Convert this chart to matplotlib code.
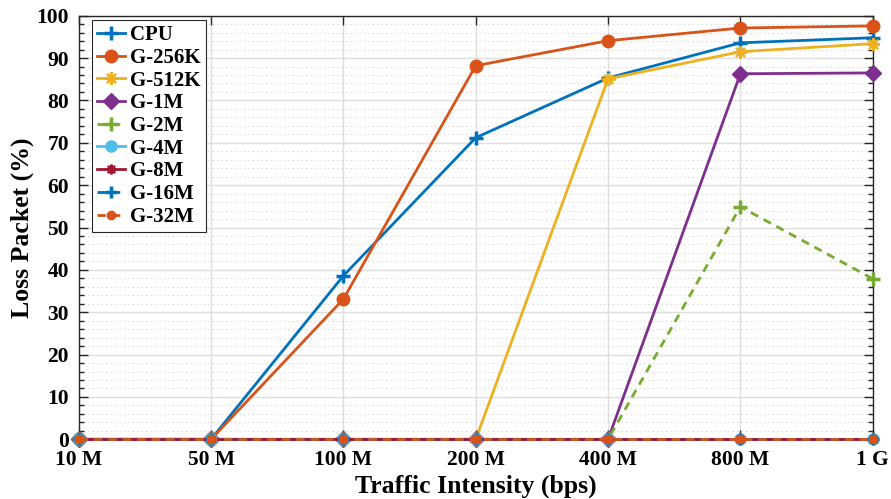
import numpy as np
import matplotlib
matplotlib.use("Agg")
import matplotlib.pyplot as plt
from matplotlib.ticker import MultipleLocator

# Дані
x_labels = ['10 M', '50 M', '100 M', '200 M', '400 M', '800 M', '1 G']
cpu = [0, 0, 38.6, 71.2, 85.3, 93.6, 94.8]
g_256k = [0, 0, 33.1, 88.2, 94.1, 97.1, 97.6]
g_512k = [0, 0, 0, 0, 85.1, 91.5, 93.4]
g_1m = [0, 0, 0, 0, 0, 86.3, 86.5]
g_2m = [0, 0, 0, 0, 0, 54.9, 37.9]
g_4m = [0, 0, 0, 0, 0, 0, 0]
g_8m = [0, 0, 0, 0, 0, 0, 0]
g_16m = [0, 0, 0, 0, 0, 0, 0]
g_32m = [0, 0, 0, 0, 0, 0, 0]

plt.rcParams['font.family'] = ['Liberation Serif', 'DejaVu Serif']
plt.rcParams['font.weight'] = 'bold'

fig = plt.figure(figsize=(8.91, 4.99), dpi=100)
ax = fig.add_axes([0.0883, 0.1196, 0.8912, 0.8489])

x = np.arange(len(x_labels))
lw = 2.0
asterisk = (8, 2, 0)

# (мітка, дані, колір, маркер, стиль лінії, розмір маркера)
series = [
    ('CPU', cpu, '#0072BD', '+', '-', 10),
    ('G-256K', g_256k, '#D95319', 'o', '-', 9),
    ('G-512K', g_512k, '#EDB120', asterisk, '-', 9),
    ('G-1M', g_1m, '#7E2F8E', 'D', '-', 8),
    ('G-2M', g_2m, '#77AC30', '+', '--', 10),
    ('G-4M', g_4m, '#4DBEEE', 'o', '-', 8),
    ('G-8M', g_8m, '#A2142F', asterisk, '-', 7),
    ('G-16M', g_16m, '#0072BD', '+', '--', 9),
    ('G-32M', g_32m, '#D95319', 'o', '--', 6),
]

for name, vals, col, mk, ls, ms in series:
    kw = dict(color=col, linestyle=ls, linewidth=lw, marker=mk, markersize=ms,
              label=name, clip_on=False, zorder=3)
    if mk == '+':
        kw.update(markeredgewidth=2.5)
    elif isinstance(mk, tuple):
        kw.update(markeredgewidth=1.6)
    else:
        kw.update(markeredgecolor=col, markerfacecolor=col)
    if ls == '--':
        kw.update(dashes=(3, 2.2))
    ax.plot(x, vals, **kw)

ax.set_xlim(0, len(x_labels) - 1)
ax.set_ylim(0, 100)
ax.set_xticks(x)
ax.set_xticklabels(x_labels)
ax.yaxis.set_major_locator(MultipleLocator(10))
ax.yaxis.set_minor_locator(MultipleLocator(2))

ax.grid(True, which='major', color='#dedede', linewidth=1.0, linestyle='-', zorder=0)
ax.grid(True, which='minor', axis='y', color='#cfcfcf', linewidth=0.8, linestyle=(0, (1, 3)), zorder=0)
ax.set_axisbelow(True)

ax.tick_params(axis='both', which='major', direction='in', length=6.5, width=1,
               top=True, right=True, labelsize=15.5, pad=7, colors='#262626')
ax.tick_params(axis='x', which='major', pad=8)
ax.tick_params(axis='y', which='minor', direction='in', length=3.5, width=1,
               left=True, right=True, colors='#262626')
for lab in ax.get_xticklabels() + ax.get_yticklabels():
    lab.set_fontweight('bold')
    lab.set_color('black')

for sp in ax.spines.values():
    sp.set_color('#262626')
    sp.set_linewidth(1.0)

ax.set_xlabel('Traffic Intensity (bps)', fontsize=18.5, fontweight='bold', labelpad=3)
ax.set_ylabel('Loss Packet (%)', fontsize=18.5, fontweight='bold', labelpad=2)

leg = ax.legend(loc='upper left', bbox_to_anchor=(0.0164, 0.99), fontsize=15,
                handlelength=1.35, labelspacing=0.13, handletextpad=0.25,
                borderpad=0.25, borderaxespad=0.0, fancybox=False, framealpha=1.0,
                prop={'weight': 'bold', 'size': 15})
leg.get_frame().set_edgecolor('#262626')
leg.get_frame().set_linewidth(0.8)

fig.savefig('out.png', dpi=100)
